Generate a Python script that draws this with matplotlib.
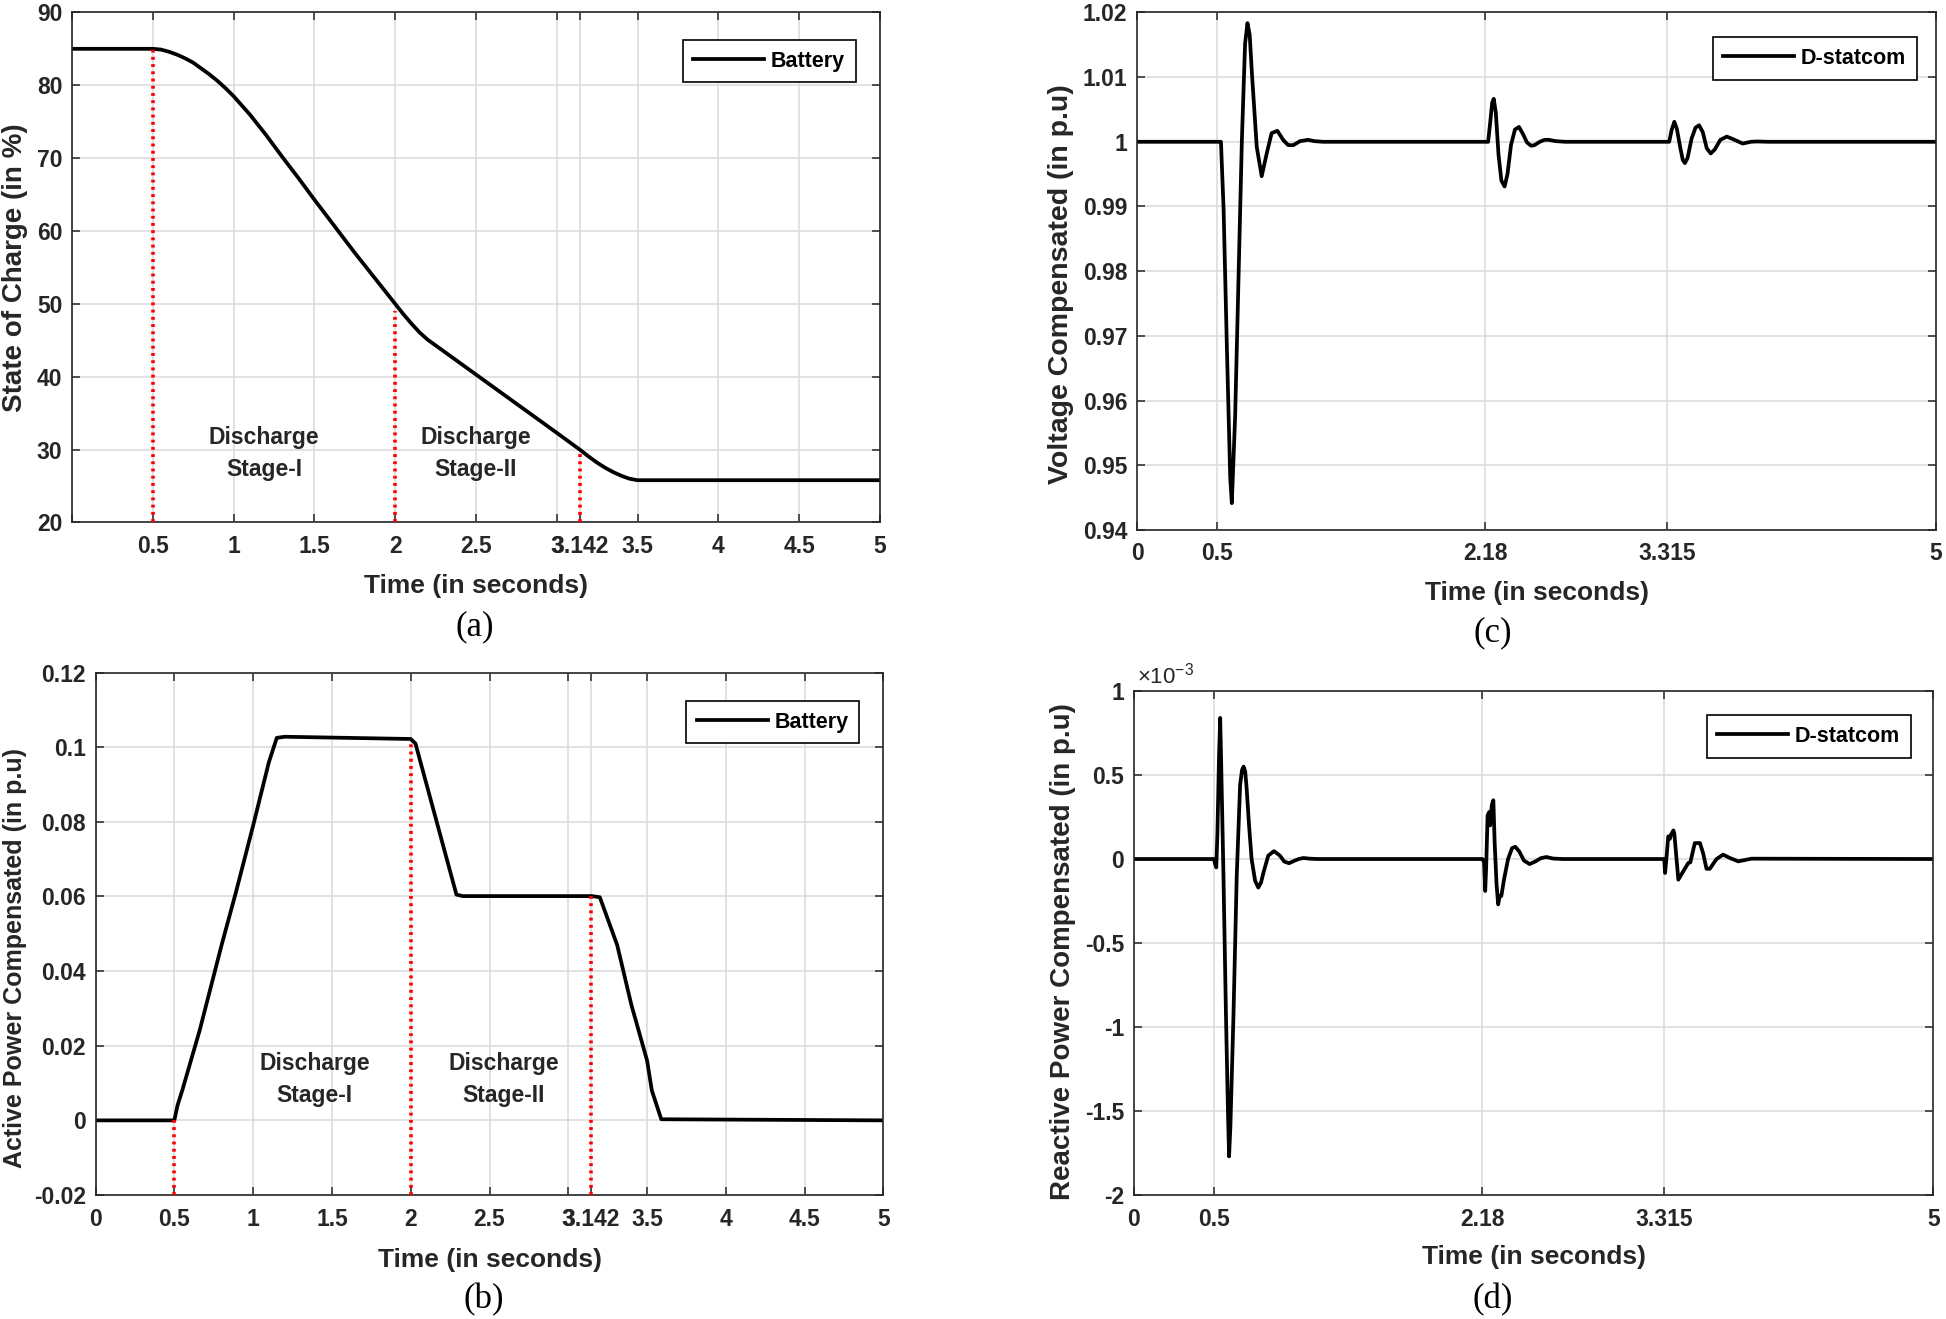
import numpy as np
import matplotlib
matplotlib.use('Agg')
import matplotlib.pyplot as plt
from matplotlib import font_manager
from matplotlib.ticker import FixedLocator, FixedFormatter

# ---------------- data ----------------
# (a) State of charge of battery (%)
soc_t = [0, 0.5, 0.55, 0.6, 0.65, 0.7, 0.75, 0.8, 0.85, 0.9, 0.95, 1.0, 1.1, 1.2, 1.3, 1.4,
         1.5, 1.75, 1.9, 2.0, 2.05, 2.1, 2.15, 2.2, 2.25, 2.5, 2.75, 3.0, 3.142, 3.2, 3.25,
         3.3, 3.35, 3.4, 3.45, 3.5, 5.0]
soc_v = [85, 85, 84.9, 84.6, 84.2, 83.7, 83.1, 82.3, 81.5, 80.6, 79.6, 78.5, 76.0, 73.2, 70.2,
         67.3, 64.3, 57.0, 52.8, 50.0, 48.6, 47.3, 46.1, 45.1, 44.3, 40.3, 36.3, 32.3, 30.0,
         29.0, 28.2, 27.5, 26.9, 26.4, 26.0, 25.8, 25.8]
soc_mark = [85, 49, 30]

# (b) Active power compensated by battery (p.u)
p_t = [0, 0.5, 0.52, 0.55, 0.66, 0.80, 0.89, 1.0, 1.1, 1.15, 1.2, 2.0, 2.03, 2.29, 2.33,
       3.15, 3.2, 3.31, 3.4, 3.5, 3.53, 3.59, 5.0]
p_v = [0, 0, 0.004, 0.008, 0.024, 0.047, 0.061, 0.079, 0.096, 0.1025, 0.1028, 0.1022, 0.101,
       0.0605, 0.0601, 0.0601, 0.0598, 0.047, 0.031, 0.016, 0.008, 0.0003, 0]
p_mark = [0, 0.102, 0.0602]

# stage boundaries (s)
stage_t = [0.5, 2.0, 3.142]

# (c) Voltage compensated by D-statcom (p.u)
v_t1 = [0, 0.5, 0.525, 0.5415, 0.562, 0.583, 0.593, 0.614, 0.635, 0.656, 0.676, 0.691, 0.705,
        0.718, 0.749, 0.780, 0.811, 0.842, 0.878, 0.915, 0.945, 0.977, 1.02, 1.07, 1.11, 1.164]
v_y1 = [1.0, 1.0, 1.0, 0.98963, 0.96835, 0.94814, 0.94415, 0.95771, 0.97899, 1.00027, 1.01516,
        1.01835, 1.0165, 1.0109, 0.9992, 0.99468, 0.99814, 1.00133, 1.0017, 1.00027, 0.9995,
        0.99947, 1.0001, 1.0003, 1.0001, 1.0]
v_t2 = [2.197, 2.21, 2.222, 2.232, 2.245, 2.262, 2.28, 2.30, 2.318, 2.34, 2.365, 2.39, 2.415,
        2.44, 2.465, 2.486, 2.52, 2.55, 2.577, 2.62, 2.68]
v_y2 = [1.0, 1.003, 1.006, 1.00665, 1.0045, 0.998, 0.994, 0.99309, 0.995, 0.9995, 1.0019,
        1.0023, 1.0012, 0.9999, 0.9994, 0.99947, 1.0, 1.0003, 1.0003, 1.0001, 1.0]
v_t3 = [3.33, 3.345, 3.362, 3.378, 3.40, 3.415, 3.428, 3.445, 3.47, 3.495, 3.517, 3.54, 3.565,
        3.59, 3.615, 3.65, 3.69, 3.73, 3.79, 3.84, 3.88, 3.95, 5.0]
v_y3 = [1.0, 1.0018, 1.0031, 1.002, 0.999, 0.9972, 0.9967, 0.9975, 1.0005, 1.0022, 1.00255,
        1.0015, 0.999, 0.9982, 0.9988, 1.0003, 1.0008, 1.0004, 0.99973, 1.0, 1.00005, 1.0, 1.0]

# (d) Reactive power compensated by D-statcom (x1e-3 p.u)
q_t1 = [0, 0.5, 0.508, 0.515, 0.522, 0.532, 0.5395, 0.545, 0.56, 0.575, 0.588, 0.595, 0.603,
        0.622, 0.643, 0.664, 0.676, 0.686, 0.696, 0.705, 0.72, 0.736, 0.758, 0.778, 0.795,
        0.809, 0.84, 0.876, 0.913, 0.94, 0.97, 1.0, 1.03, 1.06, 1.1, 1.15]
q_y1 = [0, 0, -0.03, -0.05, 0.15, 0.6, 0.84, 0.6, -0.1, -0.9, -1.5, -1.77, -1.6, -0.95, -0.1,
        0.44, 0.53, 0.55, 0.52, 0.42, 0.2, 0.0, -0.13, -0.17, -0.14, -0.085, 0.02, 0.047, 0.02,
        -0.015, -0.025, -0.012, 0.0, 0.006, 0.002, 0.0]
q_t2 = [2.18, 2.19, 2.197, 2.203, 2.212, 2.222, 2.228, 2.238, 2.248, 2.256, 2.268, 2.278,
        2.288, 2.298, 2.315, 2.34, 2.365, 2.385, 2.41, 2.44, 2.475, 2.51, 2.545, 2.58, 2.62, 2.68]
q_y2 = [0, -0.02, -0.19, -0.05, 0.26, 0.28, 0.2, 0.32, 0.35, 0.1, -0.15, -0.27, -0.22, -0.22,
        -0.12, 0.0, 0.065, 0.073, 0.045, -0.01, -0.03, -0.015, 0.005, 0.012, 0.003, 0.0]
q_t3 = [3.317, 3.322, 3.332, 3.342, 3.352, 3.359, 3.374, 3.38, 3.405, 3.436, 3.467, 3.48,
        3.508, 3.54, 3.56, 3.581, 3.602, 3.644, 3.685, 3.73, 3.78, 3.862, 5.0]
q_y3 = [0, -0.083, 0.02, 0.135, 0.12, 0.145, 0.17, 0.15, -0.123, -0.073, -0.024, -0.02,
        0.095, 0.095, 0.035, -0.058, -0.058, 0.0, 0.026, 0.005, -0.014, 0.002, 0.0]
q_scale = 1e-3

# tick labels
ab_xticks = [0, 0.5, 1, 1.5, 2, 2.5, 3, 3.142, 3.5, 4, 4.5, 5]
a_xlabels = ['', '0.5', '1', '1.5', '2', '2.5', '3', '3.142', '3.5', '4', '4.5', '5']
b_xlabels = ['0', '0.5', '1', '1.5', '2', '2.5', '3', '3.142', '3.5', '4', '4.5', '5']
cd_xticks = [0, 0.5, 2.18, 3.315, 5]
cd_xlabels = ['0', '0.5', '2.18', '3.315', '5']
a_yticks = [20, 30, 40, 50, 60, 70, 80, 90]
b_yticks = [-0.02, 0, 0.02, 0.04, 0.06, 0.08, 0.1, 0.12]
b_ylabels = ['-0.02', '0', '0.02', '0.04', '0.06', '0.08', '0.1', '0.12']
c_yticks = [0.94, 0.95, 0.96, 0.97, 0.98, 0.99, 1.0, 1.01, 1.02]
c_ylabels = ['0.94', '0.95', '0.96', '0.97', '0.98', '0.99', '1', '1.01', '1.02']
d_yticks_e3 = [-2, -1.5, -1, -0.5, 0, 0.5, 1]
d_ylabels = ['-2', '-1.5', '-1', '-0.5', '0', '0.5', '1']

# ---------------- fonts ----------------
names = {f.name for f in font_manager.fontManager.ttflist}
SANS = 'Liberation Sans' if 'Liberation Sans' in names else 'DejaVu Sans'
NARROW = 'Liberation Sans Narrow' if 'Liberation Sans Narrow' in names else SANS
SERIF = 'Liberation Serif' if 'Liberation Serif' in names else 'DejaVu Serif'

DARK = '#262626'
TICK_FS = 16.5
plt.rcParams.update({
    'font.family': [SANS, 'DejaVu Sans'],
    'font.weight': 'bold',
    'font.size': TICK_FS,
    'axes.unicode_minus': False,
    'mathtext.default': 'regular',
    'axes.linewidth': 1.2,
    'axes.edgecolor': DARK,
    'xtick.color': DARK,
    'ytick.color': DARK,
})

fig = plt.figure(figsize=(19.46, 13.19), dpi=100)

ax_a = fig.add_axes([0.0370, 0.6039, 0.4152, 0.3867])
ax_c = fig.add_axes([0.5843, 0.5982, 0.4106, 0.3924])
ax_b = fig.add_axes([0.0491, 0.0940, 0.4049, 0.3961])
ax_d = fig.add_axes([0.5827, 0.0940, 0.4108, 0.3821])

LW = 2.7
GRID = '#dadada'


def style(ax, xticks, xlabels, yticks, ylabels, ylim, ylabel, ylab_xy, xlab_y, ylab_fs,
          vgrid=None):
    ax.set_xlim(0, 5)
    ax.set_ylim(*ylim)
    ax.xaxis.set_major_locator(FixedLocator(xticks))
    ax.xaxis.set_major_formatter(FixedFormatter(xlabels))
    ax.yaxis.set_major_locator(FixedLocator(yticks))
    ax.yaxis.set_major_formatter(FixedFormatter(ylabels))
    ax.tick_params(direction='in', length=6, width=1.1, top=True, right=True,
                   labelsize=TICK_FS, colors=DARK)
    ax.tick_params(axis='x', pad=9)
    ax.tick_params(axis='y', pad=7)
    ax.grid(True, axis='y', color=GRID, lw=1.1)
    if vgrid is None:
        ax.grid(True, axis='x', color=GRID, lw=1.1)
    else:
        for xv in vgrid:
            ax.axvline(xv, color=GRID, lw=1.1, zorder=0.5)
    ax.set_axisbelow(True)
    ax.set_xlabel('Time (in seconds)', fontsize=19, fontweight='bold', va='center', color=DARK)
    ax.xaxis.set_label_coords(0.5, xlab_y)
    ax.set_ylabel(ylabel, fontsize=ylab_fs, fontweight='bold', va='center', color=DARK)
    ax.yaxis.set_label_coords(*ylab_xy)


def legend(ax, label, anchor):
    leg = ax.legend([label], loc='upper right', bbox_to_anchor=anchor, borderaxespad=0,
                    fancybox=False, edgecolor='black', framealpha=1,
                    prop={'family': SANS, 'weight': 'bold', 'size': 15.5},
                    handlelength=3.3, handletextpad=0.3, borderpad=0.5)
    leg.get_frame().set_linewidth(1.2)


STAGE_FS = 16.5

# (a)
ax_a.plot(soc_t, soc_v, color='black', lw=LW, label='Battery')
ax_a.vlines(stage_t, 20, soc_mark, colors='red', linestyles=(0, (0.8, 1.2)), lw=2.6, zorder=3)
style(ax_a, ab_xticks, a_xlabels, a_yticks, [str(v) for v in a_yticks], (20, 90),
      'State of Charge (in %)', (-0.0705, 0.5), -0.1245, 20)
legend(ax_a, 'Battery', (0.970, 0.946))
ax_a.text(1.19, 29.5, 'Discharge\nStage-I', ha='center', va='center', fontsize=STAGE_FS,
          fontweight='bold', linespacing=1.5, color=DARK)
ax_a.text(2.5, 29.5, 'Discharge\nStage-II', ha='center', va='center', fontsize=STAGE_FS,
          fontweight='bold', linespacing=1.5, color=DARK)

# (b)
ax_b.plot(p_t, p_v, color='black', lw=LW, label='Battery')
ax_b.vlines(stage_t, -0.02, p_mark, colors='red', linestyles=(0, (0.8, 1.2)), lw=2.6, zorder=3)
style(ax_b, ab_xticks, b_xlabels, b_yticks, b_ylabels, (-0.02, 0.12),
      'Active Power Compensated (in p.u)', (-0.1023, 0.454), -0.1237, 18)
legend(ax_b, 'Battery', (0.969, 0.946))
ax_b.text(1.39, 0.011, 'Discharge\nStage-I', ha='center', va='center', fontsize=STAGE_FS,
          fontweight='bold', linespacing=1.5, color=DARK)
ax_b.text(2.59, 0.011, 'Discharge\nStage-II', ha='center', va='center', fontsize=STAGE_FS,
          fontweight='bold', linespacing=1.5, color=DARK)

# (c)
v_t = v_t1 + v_t2 + v_t3
v_y = v_y1 + v_y2 + v_y3
ax_c.plot(v_t, v_y, color='black', lw=LW, label='D-statcom')
style(ax_c, cd_xticks, cd_xlabels, c_yticks, c_ylabels, (0.94, 1.02),
      'Voltage Compensated (in p.u)', (-0.095, 0.475), -0.1217, 20.5,
      vgrid=[0.5, 2.18, 3.315])
legend(ax_c, 'D-statcom', (0.976, 0.952))

# (d)
q_t = q_t1 + q_t2 + q_t3
q_y = [v * q_scale for v in (q_y1 + q_y2 + q_y3)]
ax_d.plot(q_t, q_y, color='black', lw=LW, label='D-statcom')
style(ax_d, cd_xticks, cd_xlabels, [v * q_scale for v in d_yticks_e3], d_ylabels,
      (-2e-3, 1e-3), 'Reactive Power Compensated (in p.u)', (-0.0882, 0.484), -0.123, 20,
      vgrid=[0.5, 2.18, 3.315])
legend(ax_d, 'D-statcom', (0.972, 0.952))
ax_d.text(0.004, 1.006, '×10$^{-3}$', transform=ax_d.transAxes, ha='left', va='bottom',
          fontsize=16, fontweight='normal', color=DARK)

# captions
for lbl, (x, y) in {'(a)': (475, 627), '(c)': (1493, 633), '(b)': (484, 1300),
                    '(d)': (1493, 1300)}.items():
    fig.text(x / 1946, 1 - y / 1319, lbl, ha='center', va='center', fontsize=25,
             family=[SERIF, 'DejaVu Serif'], fontweight='normal', color='black')

fig.savefig('out.png', dpi=100)
